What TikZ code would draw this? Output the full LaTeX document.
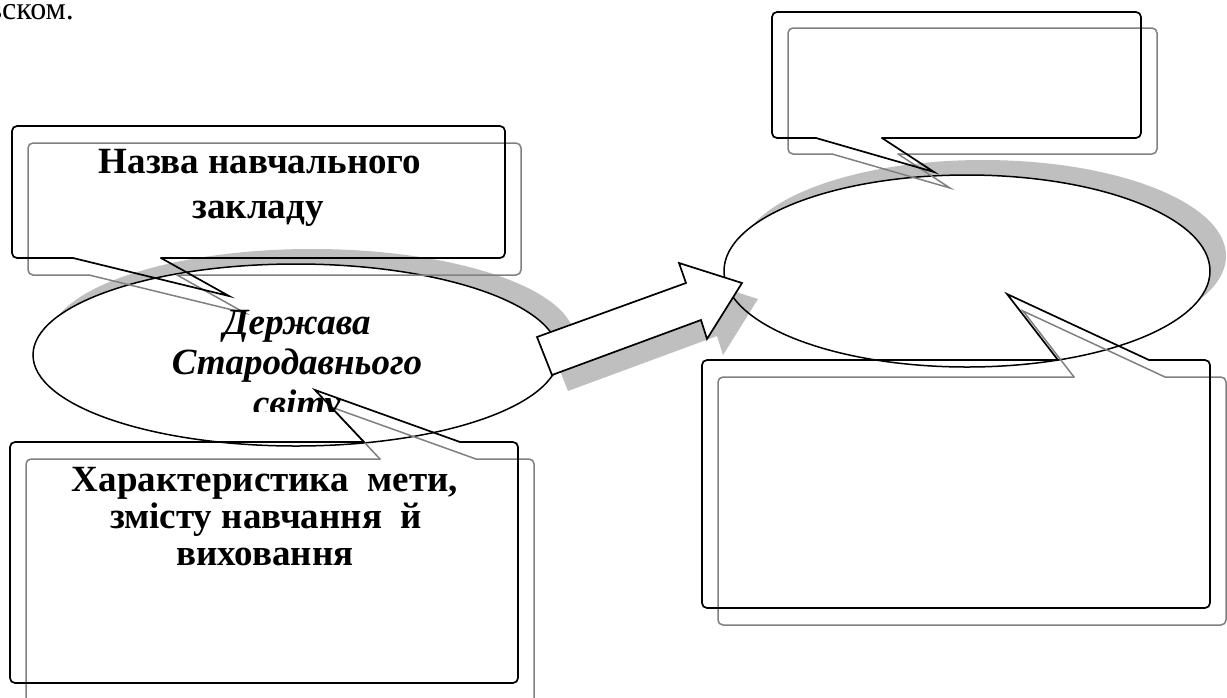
\documentclass[tikz,border=0pt]{standalone}
\usepackage{fontspec}
\setmainfont{Liberation Serif}
\begin{document}
\begin{tikzpicture}[x=1pt,y=-1pt,
  boxblack/.style={draw=black, line width=1.7pt, rounded corners=5pt, line cap=round},
  tailblack/.style={draw=black, line width=1.7pt, line cap=round, line join=miter},
  boxgray/.style={draw=black!50, line width=1.5pt, rounded corners=5pt, line cap=round},
  tailgray/.style={draw=black!50, line width=1.5pt, line cap=round, line join=miter},
  shadowfill/.style={fill=black!25, draw=none},
  ellout/.style={draw=black, line width=1.5pt},
  arrowshape/.style={draw=black, line width=1.7pt, fill=white, line join=miter},
  lbl/.style={font=\fontsize{37}{44}\selectfont\bfseries, anchor=base, inner sep=0pt},
  ilbl/.style={font=\fontsize{37}{44}\selectfont\bfseries\itshape, anchor=base, inner sep=0pt},
  body/.style={font=\fontsize{32}{36}\selectfont, anchor=base west, inner sep=0pt},
]
\useasboundingbox (0,0) rectangle (1227,697);
\clip (0,0) rectangle (1227,697);
\fill[white] (0,0) rectangle (1227,697);

% ellipse shadows
\fill[shadowfill] (312,340) ellipse [x radius=263, y radius=91];
\fill[shadowfill] (983,256) ellipse [x radius=243, y radius=96];
% ellipse fills
\fill[white] (296,355) ellipse [x radius=263, y radius=91];
\fill[white] (967,271) ellipse [x radius=243, y radius=96];
% arrow shadow
\fill[shadowfill] (568,391) -- (553,353) -- (702,299) -- (695,279) -- (758,299) -- (723,355) -- (717,336) -- cycle;
% ellipse outlines
\draw[ellout] (296,355) ellipse [x radius=263, y radius=91];
\draw[ellout] (967,271) ellipse [x radius=243, y radius=96];
% block arrow
\draw[arrowshape] (552,375) -- (537,337) -- (686,283) -- (679,263) -- (742,283) -- (707,339) -- (701,320) -- cycle;

% top-left callout
\coordinate (tlg1) at (89,275); \coordinate (tlgt) at (245,313); \coordinate (tlg2) at (177,275);
\draw[boxgray] (tlg2) -- (521,275) -- (521,143) -- (28,143) -- (28,275) -- (tlg1);
\draw[tailgray] (tlg1) -- (tlgt) -- (tlg2);
\coordinate (tlb1) at (73,258); \coordinate (tlbt) at (229,296); \coordinate (tlb2) at (161,258);
\draw[boxblack] (tlb2) -- (505,258) -- (505,126) -- (12,126) -- (12,258) -- (tlb1);
\draw[tailblack] (tlb1) -- (tlbt) -- (tlb2);

% bottom-left callout
\coordinate (blg1) at (380,459); \coordinate (blgt) at (331,407); \coordinate (blg2) at (476,459);
\draw[boxgray] (blg2) -- (534,459) -- (534,705) -- (26,705) -- (26,459) -- (blg1);
\draw[tailgray] (blg1) -- (blgt) -- (blg2);
\coordinate (blb1) at (364,442); \coordinate (blbt) at (315,390); \coordinate (blb2) at (460,442);
\draw[boxblack] (blb2) -- (518,442) -- (518,683) -- (10,683) -- (10,442) -- (blb1);
\draw[tailblack] (blb1) -- (blbt) -- (blb2);

% top-right callout
\coordinate (trg1) at (832,154); \coordinate (trgt) at (950,188); \coordinate (trg2) at (898,154);
\draw[boxgray] (trg2) -- (1157,154) -- (1157,28) -- (788,28) -- (788,154) -- (trg1);
\draw[tailgray] (trg1) -- (trgt) -- (trg2);
\coordinate (trb1) at (816,138); \coordinate (trbt) at (934,172); \coordinate (trb2) at (882,138);
\draw[boxblack] (trb2) -- (1141,138) -- (1141,12) -- (772,12) -- (772,138) -- (trb1);
\draw[tailblack] (trb1) -- (trbt) -- (trb2);

% bottom-right callout
\coordinate (brg1) at (1074,377); \coordinate (brgt) at (1023,311); \coordinate (brg2) at (1165,377);
\draw[boxgray] (brg2) -- (1226,377) -- (1226,625) -- (718,625) -- (718,377) -- (brg1);
\draw[tailgray] (brg1) -- (brgt) -- (brg2);
\coordinate (brb1) at (1058,360); \coordinate (brbt) at (1007,294); \coordinate (brb2) at (1149,360);
\draw[boxblack] (brb2) -- (1210,360) -- (1210,608) -- (702,608) -- (702,360) -- (brb1);
\draw[tailblack] (brb1) -- (brbt) -- (brb2);

% texts
\node[body] (top) at (-13,19) {вском.};
\node[lbl] (n1a) at (260,173) {Назва навчального};
\node[lbl] (n1b) at (258,218) {закладу};
\node[ilbl] (e1) at (297,334) {Держава};
\node[ilbl] (e2) at (297,374) {Стародавнього};
\begin{scope}
\clip (100,300) rectangle (500,411);
\node[ilbl] (e3) at (297,415) {світу};
\end{scope}
\node[lbl] (c1) at (265,491) {Характеристика\ \ мети,};
\node[lbl] (c2) at (266,528) {змісту навчання\ \ й};
\node[lbl] (c3) at (265,565) {виховання};
\end{tikzpicture}
\end{document}
